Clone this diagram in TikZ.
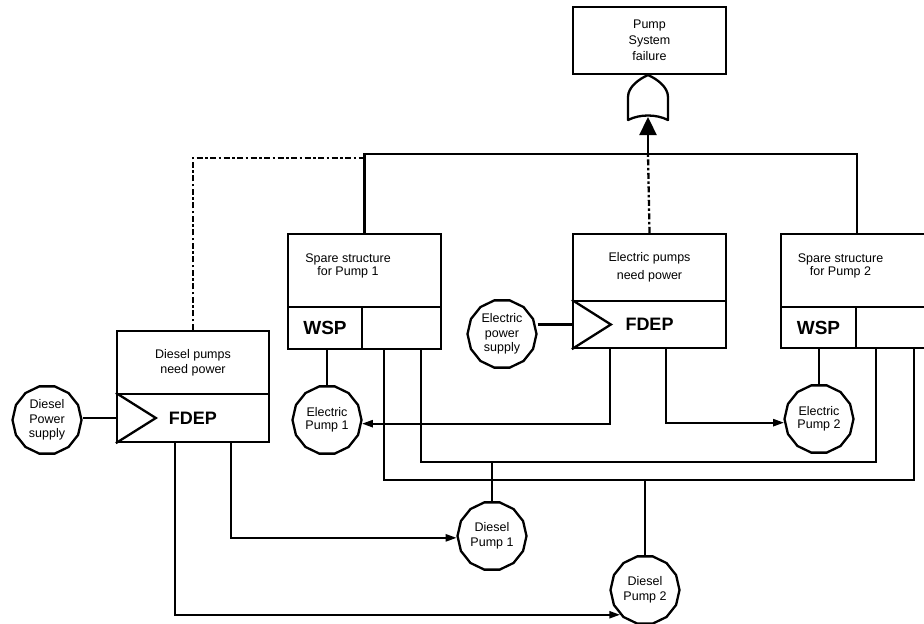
\documentclass[tikz,border=0pt]{standalone}
\usepackage{fontspec}
\setmainfont{Liberation Sans}
\usetikzlibrary{arrows.meta,calc,shapes.geometric}

\begin{document}
\begin{tikzpicture}[x=1pt,y=-1pt,
  every node/.style={font=\fontsize{12.5}{13.5}\selectfont},
  lw/.style={line width=2.3pt},
  blk/.style={draw, lw, rectangle, inner sep=0pt, align=center},
  pump/.style={draw, lw, regular polygon, regular polygon sides=14,
    minimum size=69pt, inner sep=0pt, align=center},
  kw/.style={font=\bfseries\fontsize{18}{20}\selectfont},
  feed/.style={lw, -{Triangle[length=11pt,width=7pt]}},
  trig/.style={lw, -{Triangle[length=18pt,width=17pt]}},
  dashdot/.style={lw, dash pattern=on 6pt off 2.5pt on 2.5pt off 2.5pt},
]
\clip (0,0) rectangle (924,624);

% top event and OR gate
\node[blk, minimum width=153pt, minimum height=67pt,
      font=\fontsize{12.5}{16}\selectfont] (top) at (649.5,40.5) {Pump\\System\\failure};
\draw[lw, line join=round] (648,75) .. controls (639,79) and (628,87) .. (628,97)
  -- (628,120) .. controls (640,114) and (656,114) .. (668,120)
  -- (668,97) .. controls (668,87) and (657,79) .. (648,75) -- cycle;
\coordinate (gatein) at (648,117);

% electric FDEP
\node[blk, minimum width=153pt, minimum height=67pt,
      font=\fontsize{12.5}{18}\selectfont] (epw) at (649.5,267.5) {Electric pumps\\need power};
\node[blk, minimum width=153pt, minimum height=47pt, kw] (efdep) at (649.5,324.5) {FDEP};
\draw[lw] (efdep.north west) -- ($(efdep.west)+(39,0)$) -- (efdep.south west);

% diesel FDEP
\node[blk, minimum width=152pt, minimum height=63pt,
      font=\fontsize{12.5}{15}\selectfont] (dpw) at (193,362.5) {Diesel pumps\\need power};
\node[blk, minimum width=152pt, minimum height=48pt, kw] (dfdep) at (193,418) {FDEP};
\draw[lw] (dfdep.north west) -- ($(dfdep.west)+(40,0)$) -- (dfdep.south west);

% spare structure 1
\node[blk, minimum width=153pt, minimum height=73pt] (sp1) at (364.5,270.5) {};
\node[align=center, font=\fontsize{12.5}{13}\selectfont] (sp1t) at (348,266) {Spare structure\\for Pump 1};
\node[blk, minimum width=74pt, minimum height=42pt, font=\bfseries\fontsize{19}{20}\selectfont] (wsp1) at (325,328) {WSP};
\node[blk, minimum width=79pt, minimum height=42pt] (sp1r) at (401.5,328) {};

% spare structure 2
\node[blk, minimum width=189pt, minimum height=73pt] (sp2) at (875.5,270.5) {};
\node[align=center, font=\fontsize{12.5}{13}\selectfont] (sp2t) at (840.5,266) {Spare structure\\for Pump 2};
\node[blk, minimum width=75pt, minimum height=41pt, font=\bfseries\fontsize{19}{20}\selectfont] (wsp2) at (818.5,327.5) {WSP};
\node[blk, minimum width=114pt, minimum height=41pt] (sp2r) at (913,327.5) {};

% basic events
\node[pump, font=\fontsize{12.5}{14.5}\selectfont] (eps) at (502,334) {Electric\\power\\supply};
\node[pump, font=\fontsize{12.5}{14.5}\selectfont] (dps) at (47,420) {Diesel\\Power\\supply};
\node[pump] (ep1) at (327,420) {Electric\\Pump 1};
\node[pump] (ep2) at (819,419) {Electric\\Pump 2};
\node[pump, font=\fontsize{12.5}{15}\selectfont] (dp1) at (492,536) {Diesel\\Pump 1};
\node[pump, font=\fontsize{12.5}{15}\selectfont] (dp2) at (645,590) {Diesel\\Pump 2};

% inputs of the OR gate
\coordinate (bus) at (648,154);
\coordinate (dashend) at ($(sp1.north |- bus)+(0,4)$);
\draw[lw] (sp1.north) |- (bus);
\draw[lw] (bus) -| (sp2.north -| wsp2.east);
\draw[dashdot] (epw.north) -- (bus);
\draw[trig] (bus) -- (gatein);
\draw[dashdot] (dpw.north) |- (dashend);

% trigger inputs
\draw[lw] (dps.east |- dfdep.west) -- (dfdep.west);
\draw[lw] (eps.east |- efdep.west) -- (efdep.west);

% dependent events of the electric FDEP
\draw[feed] ($(efdep.south west)+(38,0)$) |- (ep1.-6);
\draw[feed] ($(efdep.south west)+(94,0)$) |- (ep2.186);

% dependent events of the diesel FDEP
\draw[feed] ($(dfdep.south west)+(115,0)$) |- (dp1.183);
\draw[feed] ($(dfdep.south west)+(59,0)$) |- (dp2.225);

% primary pumps of the spare gates
\draw[lw] (ep1.north) -- (ep1.north |- wsp1.south);
\draw[lw] (ep2.north) -- (ep2.north |- wsp2.south);

% shared spare pumps
\coordinate (innerL) at ($(sp1r.south west)+(60,112)$);
\coordinate (outerL) at ($(sp1r.south west)+(23,130)$);
\draw[lw] (innerL |- sp1r.south) -- (innerL) -| ($(sp2r.south west)+(21,0)$);
\draw[lw] (outerL |- sp1r.south) -- (outerL) -| ($(sp2r.south west)+(59,0)$);
\draw[lw] (dp1.north) -- (dp1.north |- innerL);
\draw[lw] (dp2.north) -- (dp2.north |- outerL);
\end{tikzpicture}
\end{document}
